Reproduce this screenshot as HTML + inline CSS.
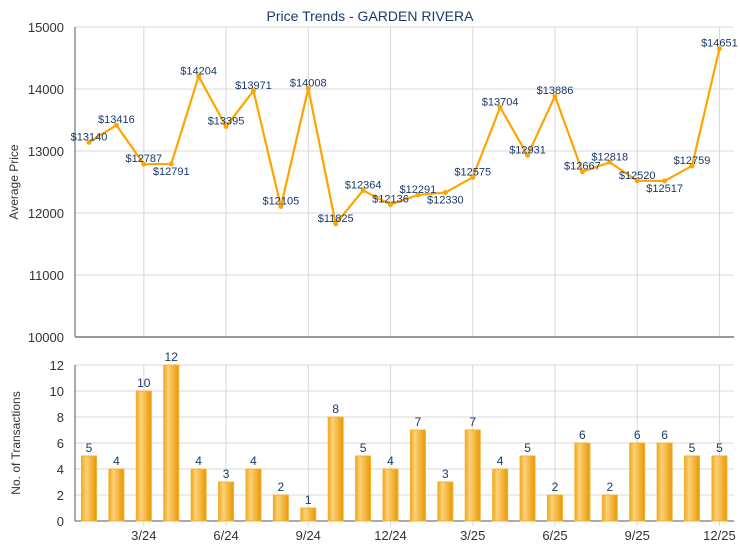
<!DOCTYPE html>
<html><head><meta charset="utf-8"><style>
body{margin:0;background:#fff;}
svg{display:block;font-family:"Liberation Sans",Arial,sans-serif;}
</style></head><body>
<svg id="c" width="740" height="550" xmlns="http://www.w3.org/2000/svg">
<defs>
<linearGradient id="bg" x1="0" x2="1" y1="0" y2="0">
<stop offset="0" stop-color="#efa818"/>
<stop offset="0.3" stop-color="#fdd27c"/>
<stop offset="1" stop-color="#e89800"/>
</linearGradient>
</defs>
</svg>
<script>
var s=document.getElementById('c'),h='';
var L=75,R=734;
var v=[13140,13416,12787,12791,14204,13395,13971,12105,14008,11825,12364,12136,12291,12330,12575,13704,12931,13886,12667,12818,12520,12517,12759,14651];
var n=[5,4,10,12,4,3,4,2,1,8,5,4,7,3,7,4,5,2,6,2,6,6,5,5];
var below={3:1,13:1,21:1};
function X(i){return 89+i*27.41;}
function Y(p){return 27+(15000-p)*0.062;}
function B(c){return 521-c*13;}
// top grid
for(var k=10000;k<=15000;k+=1000){var y=Y(k);h+='<line x1="'+L+'" x2="'+R+'" y1="'+y+'" y2="'+y+'" stroke="#d8d8d8"/>';
h+='<text x="64" y="'+(y+5)+'" font-size="13" text-anchor="end" fill="#333">'+k+'</text>';}
for(var c=0;c<=12;c+=2){var y=B(c);h+='<line x1="'+L+'" x2="'+R+'" y1="'+y+'" y2="'+y+'" stroke="#d8d8d8"/>';
h+='<text x="64" y="'+(y+5)+'" font-size="13" text-anchor="end" fill="#333">'+c+'</text>';}
var ticks=[[2,'3/24'],[5,'6/24'],[8,'9/24'],[11,'12/24'],[14,'3/25'],[17,'6/25'],[20,'9/25'],[23,'12/25']];
ticks.forEach(function(t){var x=X(t[0]);
h+='<line x1="'+x+'" x2="'+x+'" y1="27" y2="337" stroke="#d8d8d8"/>';
h+='<line x1="'+x+'" x2="'+x+'" y1="365" y2="526" stroke="#d8d8d8"/>';
h+='<text x="'+x+'" y="540" font-size="13" text-anchor="middle" fill="#333">'+t[1]+'</text>';});
h+='<line x1="'+L+'" x2="'+L+'" y1="27" y2="337" stroke="#555"/>';
h+='<line x1="'+L+'" x2="'+R+'" y1="337" y2="337" stroke="#999" stroke-width="2"/>';
h+='<line x1="'+L+'" x2="'+L+'" y1="365" y2="521" stroke="#555"/>';
h+='<line x1="'+L+'" x2="'+R+'" y1="521" y2="521" stroke="#555"/>';
// bars
n.forEach(function(c,i){var x=X(i),y=B(c);
h+='<rect x="'+(x-7.5)+'" y="'+y+'" width="15" height="'+(521-y)+'" fill="url(#bg)" stroke="#f4b030" stroke-width="1"/>';
h+='<text x="'+x+'" y="'+(y-4)+'" font-size="12" text-anchor="middle" fill="#1a3a6a">'+c+'</text>';});
// line
var pts=v.map(function(p,i){return X(i)+','+Y(p);}).join(' ');
h+='<polyline points="'+pts+'" fill="none" stroke="#ffa500" stroke-width="2.2"/>';
v.forEach(function(p,i){var x=X(i),y=Y(p);
h+='<circle cx="'+x+'" cy="'+y+'" r="2.5" fill="#ffa500"/>';
var ty=below[i]?y+11:y-2;
h+='<text x="'+x+'" y="'+ty+'" font-size="11" text-anchor="middle" fill="#1a3a6a">$'+p+'</text>';});
h+='<text x="370" y="21" font-size="14" text-anchor="middle" fill="#1a3a6a">Price Trends - GARDEN RIVERA</text>';
h+='<text transform="translate(18,182) rotate(-90)" font-size="12" text-anchor="middle" fill="#333">Average Price</text>';
h+='<text transform="translate(20,443) rotate(-90)" font-size="12" text-anchor="middle" fill="#333">No. of Transactions</text>';
s.insertAdjacentHTML('beforeend',h);
</script>
</body></html>
